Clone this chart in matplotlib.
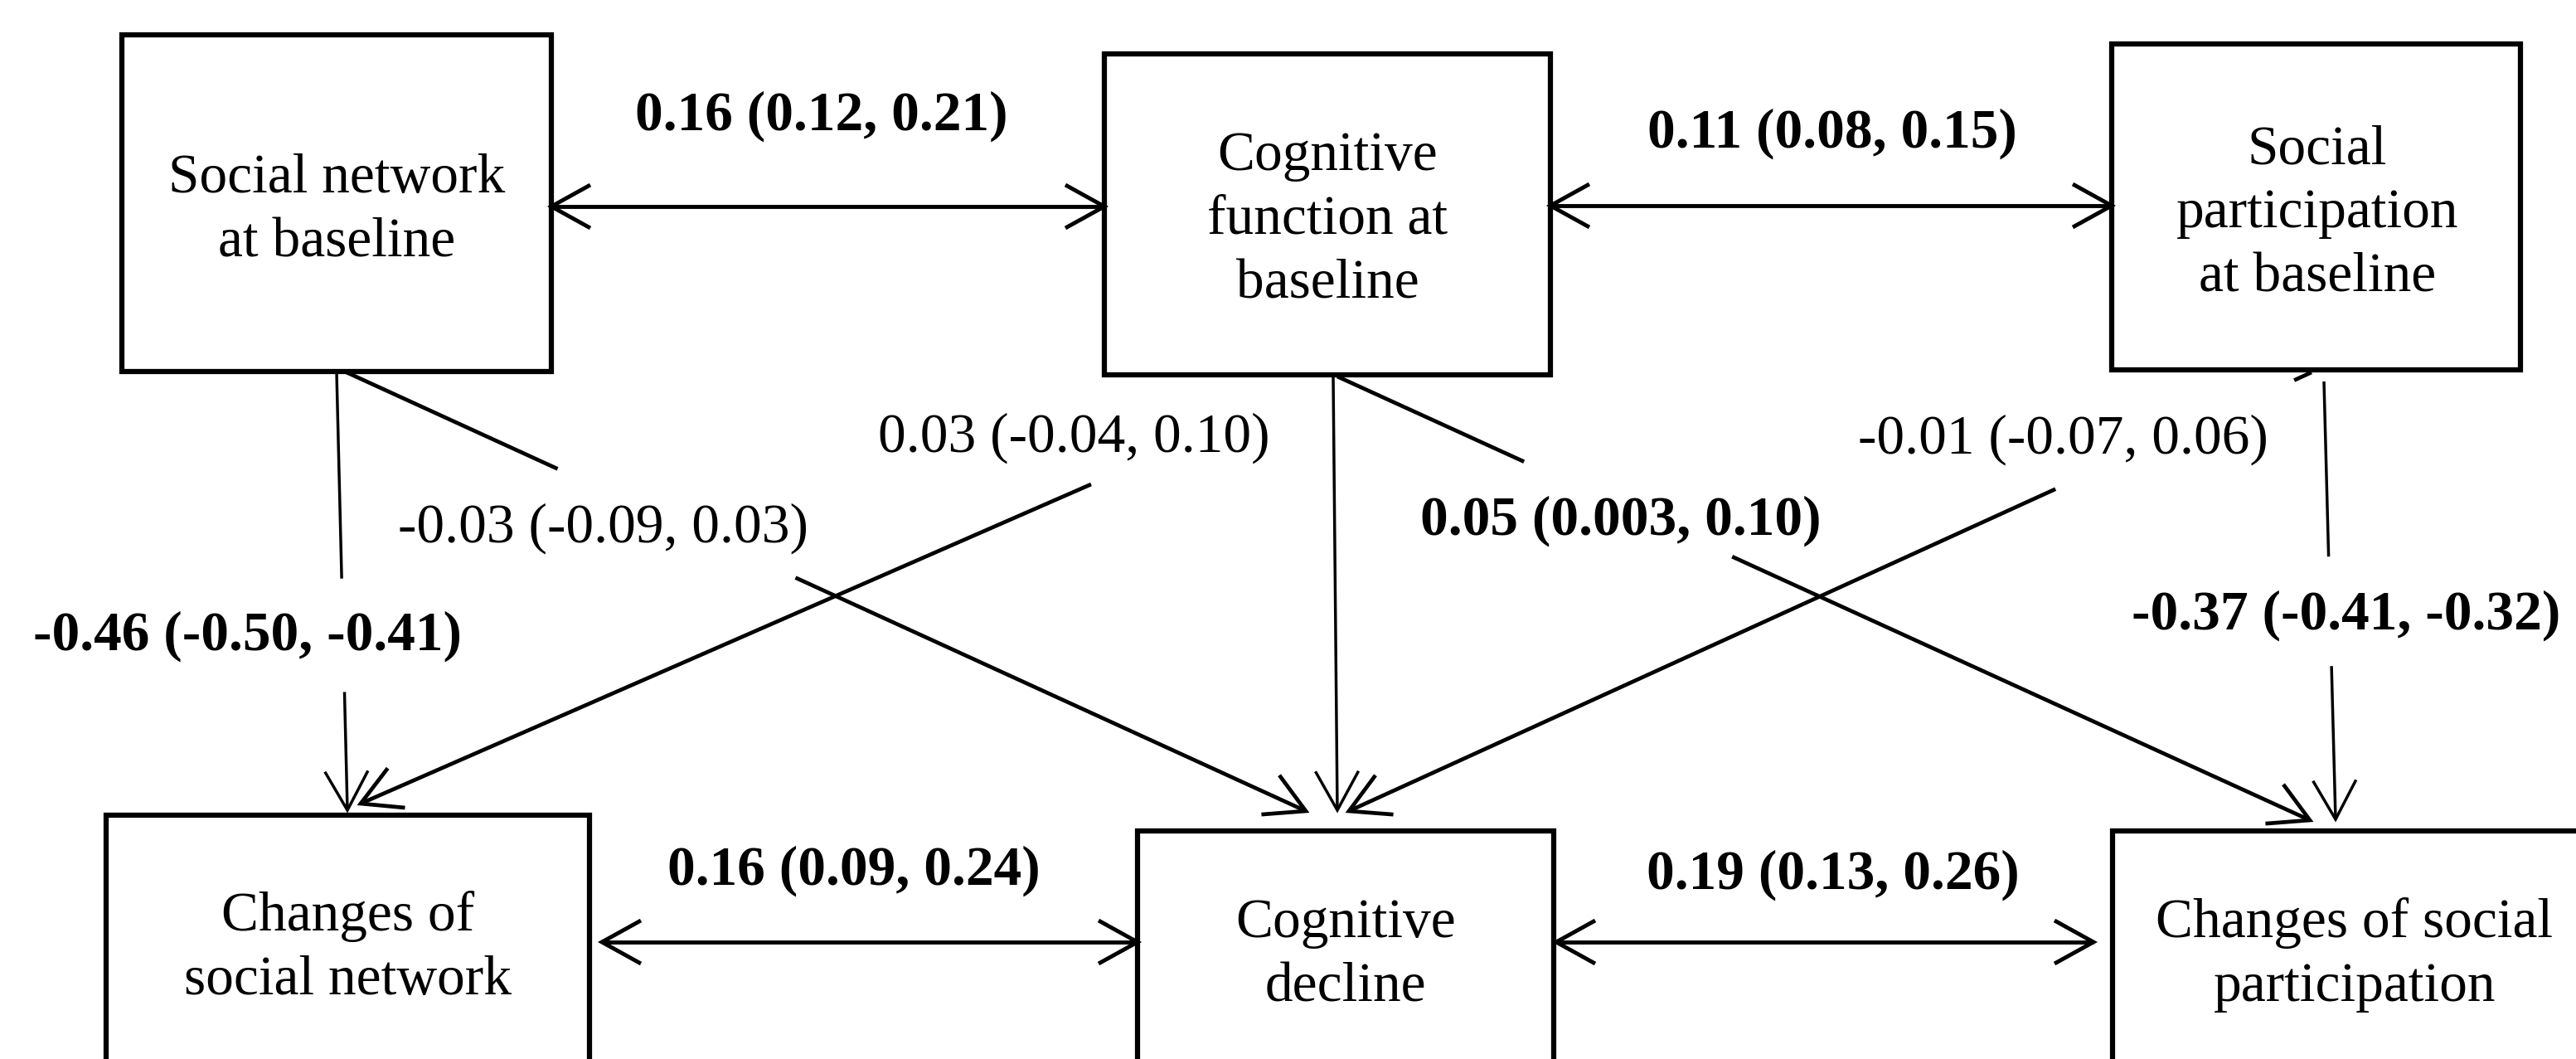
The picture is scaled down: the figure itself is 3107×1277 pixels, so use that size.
import matplotlib
matplotlib.use("Agg")
import matplotlib.pyplot as plt
from matplotlib.patches import Rectangle
import numpy as np

W, H, DPI = 3107, 1277, 100
FONT = "Liberation Serif"
FS = 48.5

# ---- nodes ----
node_labels = [
    "Social network\nat baseline",
    "Cognitive\nfunction at\nbaseline",
    "Social\nparticipation\nat baseline",
    "Changes of\nsocial network",
    "Cognitive\ndecline",
    "Changes of social\nparticipation",
]
# ---- path estimates (standardised coefficients with 95% CI) ----
path_names = ["SN0<->CF0", "CF0<->SP0", "dSN<->CD", "CD<->dSP", "SN0->dSN",
              "SN0->CD", "CF0->dSN", "CF0->dSP", "SP0->CD", "SP0->dSP"]
estimates = ["0.16", "0.11", "0.16", "0.19", "-0.46", "-0.03", "0.03", "0.05", "-0.01", "-0.37"]
lower = ["0.12", "0.08", "0.09", "0.13", "-0.50", "-0.09", "-0.04", "0.003", "-0.07", "-0.41"]
upper = ["0.21", "0.15", "0.24", "0.26", "-0.41", "0.03", "0.10", "0.10", "0.06", "-0.32"]
significant = [True, True, True, True, True, False, False, True, False, True]

# ---- layout (pixel coordinates, y downward) ----
node_boxes = [(147, 42, 665, 448), (1332, 65, 1870, 452), (2547, 53, 3040, 446),
              (128, 983, 711, 1320), (1372, 1002, 1874, 1320), (2548, 1002, 3160, 1320)]
node_first_baseline = [232, 205, 197, 1122, 1130, 1130]
node_center_x = [406, 1601, 2795, 420, 1623, 2840]
LINE_STEP = 77

label_xy = [(991, 157), (2210, 178), (1030, 1067), (2211, 1072), (299, 784),
            (727, 654), (1295, 545), (1955, 645), (2488, 547), (2830, 759)]

fig = plt.figure(figsize=(W / DPI, H / DPI), dpi=DPI)
ax = fig.add_axes([0, 0, 1, 1])
ax.set_xlim(0, W)
ax.set_ylim(H, 0)
ax.axis("off")

BOX_LW = 4.5
DBL_LW = 3.5
DIAG_LW = 3.4
VERT_LW = 2.5
HL, HW = 47, 26


def head(tip, frm, lw):
    tip = np.asarray(tip, float)
    frm = np.asarray(frm, float)
    u = (tip - frm) / np.linalg.norm(tip - frm)
    n = np.array([-u[1], u[0]])
    b = tip - HL * u
    pts = np.array([b + HW * n, tip, b - HW * n])
    ax.plot(pts[:, 0], pts[:, 1], color="k", lw=lw,
            solid_joinstyle="miter", solid_capstyle="butt", zorder=3)


def edge(start, tip, lw, gaps=(), arrow=True):
    start = np.asarray(start, float)
    tip = np.asarray(tip, float)
    cuts = [0.0]
    for g0, g1 in gaps:
        cuts += [g0, g1]
    cuts.append(1.0)
    for i in range(0, len(cuts), 2):
        p0 = start + cuts[i] * (tip - start)
        p1 = start + cuts[i + 1] * (tip - start)
        ax.plot([p0[0], p1[0]], [p0[1], p1[1]], color="k", lw=lw,
                solid_capstyle="butt", zorder=2)
    if arrow:
        head(tip, start, lw)


def double(a, b, lw):
    ax.plot([a[0], b[0]], [a[1], b[1]], color="k", lw=lw, solid_capstyle="butt", zorder=2)
    head(a, b, lw)
    head(b, a, lw)


# boxes
for (x0, y0, x1, y1) in node_boxes:
    ax.add_patch(Rectangle((x0, y0), x1 - x0, y1 - y0, facecolor="white",
                           edgecolor="black", lw=BOX_LW, zorder=1))

# node texts
for lab, cx, by in zip(node_labels, node_center_x, node_first_baseline):
    for i, line in enumerate(lab.split("\n")):
        ax.text(cx, by + i * LINE_STEP, line, ha="center", va="baseline",
                fontsize=FS, family=FONT, zorder=4)

# covariances (double-headed)
double((665, 249), (1332, 249), DBL_LW)
double((1870, 248), (2547, 248), DBL_LW)
double((726, 1136), (1372, 1136), DBL_LW)
double((1877, 1136), (2525, 1136), DBL_LW)

# regression paths
edge((406, 449), (419, 977), VERT_LW, gaps=[(0.471, 0.730)])          # SN0 -> dSN
edge((418, 449), (1575, 978), DIAG_LW, gaps=[(0.220, 0.468)])         # SN0 -> CD
edge((1316, 584), (435, 969), DIAG_LW)                                # CF0 -> dSN
edge((1608, 454), (1613, 977), VERT_LW)                               # CF0 -> CD
edge((1613, 454), (2786, 989), DIAG_LW, gaps=[(0.192, 0.406)])        # CF0 -> dSP
edge((2788, 449), (1627, 978), DIAG_LW, gaps=[(0.018, 0.266)])        # SP0 -> CD
edge((2803, 460), (2817, 988), VERT_LW, gaps=[(0.40, 0.65)])          # SP0 -> dSP

# path labels
for est, lo, hi, sig, (x, y) in zip(estimates, lower, upper, significant, label_xy):
    ax.text(x, y, f"{est} ({lo}, {hi})", ha="center", va="baseline",
            fontsize=FS, family=FONT, fontweight="bold" if sig else "normal", zorder=4)

fig.savefig("out.png", dpi=DPI, facecolor="white")
